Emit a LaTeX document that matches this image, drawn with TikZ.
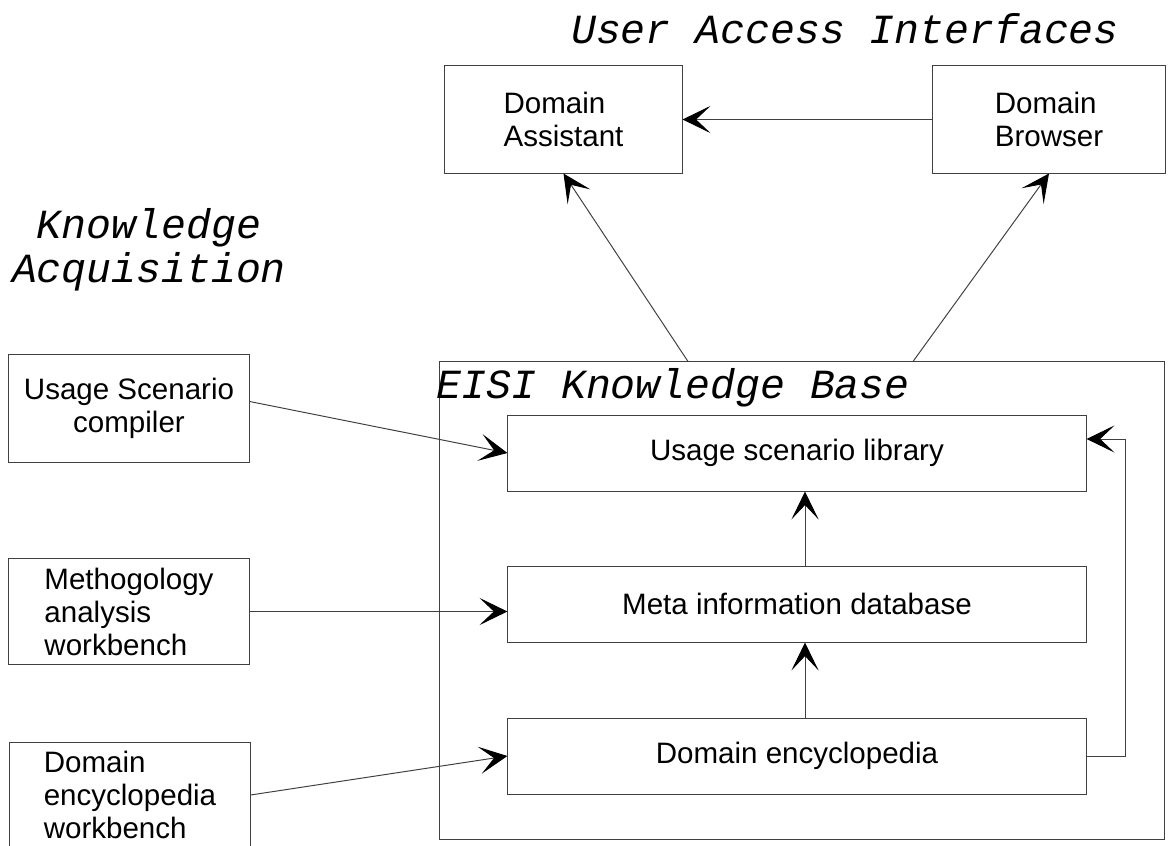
\documentclass[tikz,border=0pt]{standalone}
\usepackage{fontspec}
\setmainfont{Liberation Sans}
\newfontfamily\cour{Liberation Mono}
\usetikzlibrary{arrows.meta}
\begin{document}
\begin{tikzpicture}[x=0.025cm,y=-0.025cm,
        box/.style={draw=black!75,line width=0.7pt,inner sep=0pt,font=\fontsize{21}{23.5}\selectfont},
        head/.style={font=\cour\itshape\fontsize{29.5}{31}\selectfont,inner sep=0pt},
        arr/.style={black!75,line width=0.7pt,-{Stealth[length=0.7cm,width=0.68cm,inset=0.36cm,black]}}]
                \useasboundingbox (0,0) rectangle (1169,846);
                \node[head] (UAI) at (845,29) {User Access Interfaces};
                \node[head,align=center] (KA) at (149,250) {Knowledge\\Acquisition};
                \node[box,minimum width=5.925cm,minimum height=2.675cm,align=left] (DA) at (563.5,119.5) {Domain\\Assistant};
                \node[box,minimum width=5.8cm,minimum height=2.675cm,align=left] (DB) at (1049,119.5) {Domain\\Browser};
                \node[box,minimum width=6cm,minimum height=2.675cm,align=center] (USC) at (129,408.5) {Usage Scenario\\compiler};
                \node[box,minimum width=6cm,minimum height=2.625cm,align=left] (MAW) at (129,611.5) {Methogology\\analysis\\workbench};
                \node[box,minimum width=6cm,minimum height=2.65cm,align=left] (DEW) at (130,795) {Domain\\encyclopedia\\workbench};
                \node[box,minimum width=18.1cm,minimum height=11.925cm] (KB) at (802,600.5) {};
                \node[head,anchor=west] (EKB) at ([xshift=-0.075cm,yshift=-0.65cm]KB.north west) {EISI Knowledge Base};
                \node[box,minimum width=14.45cm,minimum height=1.9cm] (USL) at (797,453) {Usage scenario library};
                \node[box,minimum width=14.45cm,minimum height=1.9cm] (MID) at (797,604) {Meta information database};
                \node[box,minimum width=14.45cm,minimum height=1.9cm] (DE) at (797,756) {Domain encyclopedia};
                \coordinate (KBl) at ([xshift=-2.85cm]KB.north);
                \coordinate (KBr) at ([xshift=2.775cm]KB.north);
                \draw[arr] (DB.west) -- (DA.east);
                \draw[arr] (KBl) -- (DA.south);
                \draw[arr] (KBr) -- (DB.south);
                \draw[arr] ([yshift=0.175cm]USC.east) -- (USL.west);
                \draw[arr] (MAW.east) -- (MAW.east -| MID.west);
                \draw[arr] (DEW.east) -- (DE.west);
                \draw[arr] ([xshift=0.2cm]MID.north) -- ([xshift=0.2cm]USL.south);
                \draw[arr] ([xshift=0.2cm]DE.north) -- ([xshift=0.2cm]MID.south);
                \draw[arr] (DE.east) -- ++(0.975cm,0) |- ([yshift=0.35cm]USL.east);
            \end{tikzpicture}
\end{document}
